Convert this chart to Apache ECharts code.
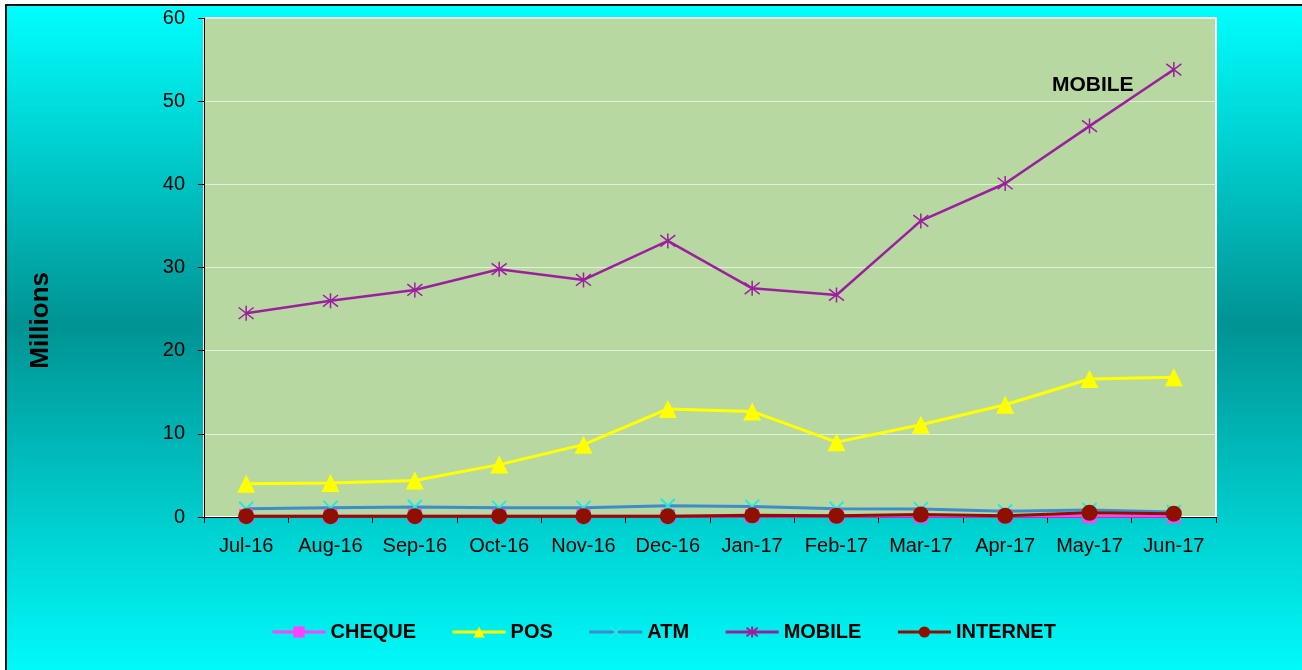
<!DOCTYPE html>
<html>
<head>
<meta charset="utf-8">
<script src="https://cdn.jsdelivr.net/npm/echarts@6/dist/echarts.min.js"></script>
<style>
  html, body { margin: 0; padding: 0; }
  #chart { width: 1302px; height: 670px; }
</style>
</head>
<body>
<div id="chart"></div>
<script>
  var months = ['Jul-16', 'Aug-16', 'Sep-16', 'Oct-16', 'Nov-16', 'Dec-16',
                'Jan-17', 'Feb-17', 'Mar-17', 'Apr-17', 'May-17', 'Jun-17'];

  // values in millions
  var cheque   = [0.1, 0.1, 0.1, 0.1, 0.1, 0.1, 0.1, 0.1, 0.1, 0.1, 0.1, 0.1];
  var pos      = [4.0, 4.1, 4.4, 6.3, 8.7, 13.0, 12.7, 9.0, 11.1, 13.5, 16.6, 16.8];
  var atm      = [1.0, 1.1, 1.2, 1.1, 1.1, 1.35, 1.25, 1.0, 0.95, 0.7, 0.85, 0.6];
  var mobile   = [24.5, 26.0, 27.3, 29.8, 28.5, 33.2, 27.5, 26.7, 35.6, 40.1, 47.0, 53.8];
  var internet = [0.1, 0.1, 0.1, 0.1, 0.1, 0.1, 0.2, 0.15, 0.3, 0.15, 0.5, 0.4];

  var FONT = '"Liberation Sans", Arial, sans-serif';

  var chart = echarts.init(document.getElementById('chart'));

  // label on the last mobile point
  var mobileData = mobile.map(function (v, i) {
    if (i !== mobile.length - 1) return v;
    return {
      value: v,
      label: {
        show: true, formatter: 'MOBILE', position: 'left',
        offset: [-27, 16], color: '#000', fontWeight: 'bold',
        fontSize: 21, fontFamily: FONT
      }
    };
  });

  var option = {
    animation: false,
    graphic: [{
      type: 'rect', z: -10, silent: true,
      shape: { x: 6, y: 5, width: 1310, height: 680 },
      style: {
        fill: new echarts.graphic.LinearGradient(0, 0, 0, 1, [
          { offset: 0, color: '#00ffff' },
          { offset: 0.47, color: '#009393' },
          { offset: 1, color: '#00ffff' }
        ]),
        stroke: '#111', lineWidth: 2
      }
    }, {
      type: 'text', left: 28, top: 272, rotation: Math.PI / 2,
      style: {
        text: 'Millions', fill: '#000',
        font: 'bold 26px "Liberation Sans", Arial, sans-serif'
      }
    }],
    grid: {
      left: 204, right: 86, top: 18, bottom: 153,
      show: true, backgroundColor: '#b8d8a2',
      borderColor: '#ffffff', borderWidth: 2
    },
    legend: {
      top: 617, left: 266,
      itemWidth: 53, itemHeight: 14, itemGap: 35,
      lineStyle: { width: 3 },
      textStyle: { fontFamily: FONT, fontWeight: 'bold', fontSize: 20, color: '#000' },
      data: ['CHEQUE', 'POS', 'ATM', 'MOBILE', 'INTERNET']
    },
    xAxis: {
      type: 'category', data: months, boundaryGap: true,
      axisLine: { lineStyle: { color: '#000', width: 1 } },
      axisTick: { show: true, length: 6, lineStyle: { color: '#000' } },
      axisLabel: { interval: 0, color: '#000', fontFamily: FONT, fontSize: 20, margin: 19 }
    },
    yAxis: {
      type: 'value', min: 0, max: 60, interval: 10,
      axisLine: { show: true, lineStyle: { color: '#000', width: 1 } },
      axisTick: { show: true, length: 6, lineStyle: { color: '#000' } },
      axisLabel: { color: '#000', fontFamily: FONT, fontSize: 20, margin: 19 },
      splitLine: { lineStyle: { color: '#e4eedc', width: 1 } }
    },
    series: [{
      name: 'CHEQUE', type: 'line', data: cheque,
      symbol: 'rect', symbolSize: 14,
      lineStyle: { color: '#ff40ff', width: 3 },
      itemStyle: { color: '#ff40ff' }
    }, {
      name: 'POS', type: 'line', data: pos,
      symbol: 'triangle', symbolSize: 18,
      lineStyle: { color: '#ffff00', width: 3 },
      itemStyle: { color: '#ffff00' }
    }, {
      name: 'ATM', type: 'line', data: atm,
      symbol: 'path://M-1,-1L1,1M-1,1L1,-1', symbolSize: 14,
      lineStyle: { color: '#3d8ccc', width: 3 },
      itemStyle: { color: 'rgba(0,0,0,0)', borderColor: '#22e8e8', borderWidth: 2 }
    }, {
      name: 'MOBILE', type: 'line', data: mobileData,
      symbol: 'path://M-1,-1L1,1M-1,1L1,-1M0,-1.3L0,1.3', symbolSize: 15,
      lineStyle: { color: '#9c1fa0', width: 2.5 },
      itemStyle: { color: 'rgba(0,0,0,0)', borderColor: '#9c1fa0', borderWidth: 1.5 }
    }, {
      name: 'INTERNET', type: 'line', data: internet,
      symbol: 'circle', symbolSize: 16,
      lineStyle: { color: '#8f0f00', width: 3 },
      itemStyle: { color: '#8f0f00' }
    }]
  };

  chart.setOption(option);
</script>
</body>
</html>
